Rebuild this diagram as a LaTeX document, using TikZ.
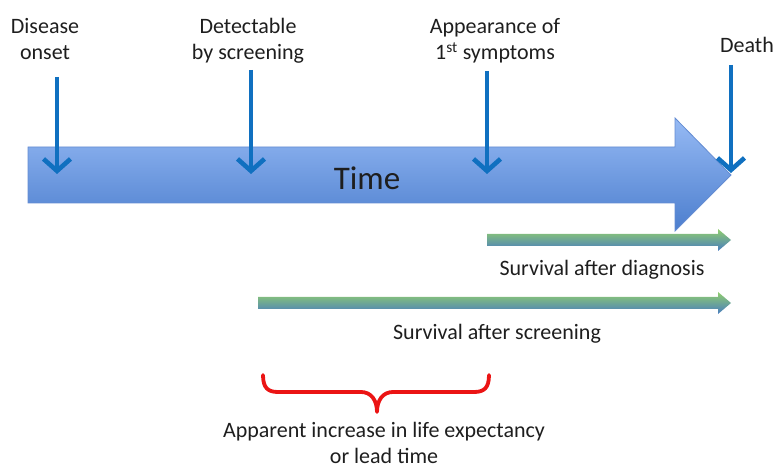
\documentclass[tikz,border=0pt]{standalone}
\usepackage{fontspec}
\setmainfont{Carlito}
\usetikzlibrary{arrows.meta}
\definecolor{txt}{RGB}{30,30,30}
\definecolor{bigtop}{RGB}{150,186,244}
\definecolor{bigbot}{RGB}{76,126,206}
\definecolor{bigedge}{RGB}{100,140,210}
\definecolor{downblue}{RGB}{16,112,192}
\definecolor{gtop}{RGB}{145,206,110}
\definecolor{gbot}{RGB}{72,124,192}
\definecolor{bracered}{RGB}{235,20,20}
\tikzset{
  lbl/.style={font=\fontsize{22}{26}\selectfont, text=txt, align=center, inner sep=0pt},
  downarrow/.style={draw=downblue, line width=4.6pt, -{Straight Barb[length=12pt,width=27pt]}},
  greenarrow/.style={top color=gtop, bottom color=gbot, draw=none},
  bigarrow/.style={top color=bigtop, bottom color=bigbot, draw=bigedge, line width=0.8pt},
  bracestyle/.style={draw=bracered, line width=3.8pt, line cap=round, line join=round}
}
\begin{document}
\begin{tikzpicture}[x=1pt,y=-1pt]
\useasboundingbox (0,0) rectangle (777,470);
% big time arrow
\shade[bigarrow] (28,147) -- (675,147) -- (675,118) -- (731,175) -- (675,231) -- (675,203) -- (28,203) -- cycle;
\node[lbl, font=\fontsize{33}{36}\selectfont, anchor=base] (time) at (367,190) {Time};
% labels (base anchor = baseline of last line)
\node[lbl, anchor=base] (onset) at (45,60) {Disease\\onset};
\node[lbl, anchor=base] (detect) at (248,60) {Detectable\\by screening};
\node[lbl, anchor=base] (appear) at (495,60) {Appearance of\\1\textsuperscript{st} symptoms};
\node[lbl, anchor=base] (death) at (747,53) {Death};
% arrow endpoints
\coordinate (s1) at (57,77);  \coordinate (e1) at (57,174);
\coordinate (s2) at (251,70); \coordinate (e2) at (251,174);
\coordinate (s3) at (487,71); \coordinate (e3) at (487,174);
\coordinate (s4) at (731,65); \coordinate (e4) at (731,173);
\draw[downarrow] (s1) -- (e1);
\draw[downarrow] (s2) -- (e2);
\draw[downarrow] (s3) -- (e3);
\draw[downarrow] (s4) -- (e4);
% green arrows
\shade[greenarrow] (487,234) -- (718,234) -- (718,229) -- (731,240) -- (718,251) -- (718,246) -- (487,246) -- cycle;
\node[lbl, anchor=base] (diag) at (602,276) {Survival after diagnosis};
\shade[greenarrow] (258,297) -- (718,297) -- (718,292) -- (731,303) -- (718,314) -- (718,309) -- (258,309) -- cycle;
\node[lbl, anchor=base] (scr) at (497,340) {Survival after screening};
% brace
\draw[bracestyle] (263,375) .. controls (263,388) and (268,392) .. (278,392) -- (361,392) .. controls (371,392) and (377,400) .. (377,412) .. controls (377,400) and (383,392) .. (393,392) -- (474,392) .. controls (484,392) and (489,388) .. (489,375);
\node[lbl, anchor=base] (lead) at (384,464) {Apparent increase in life expectancy\\or lead time};
\end{tikzpicture}
\end{document}
